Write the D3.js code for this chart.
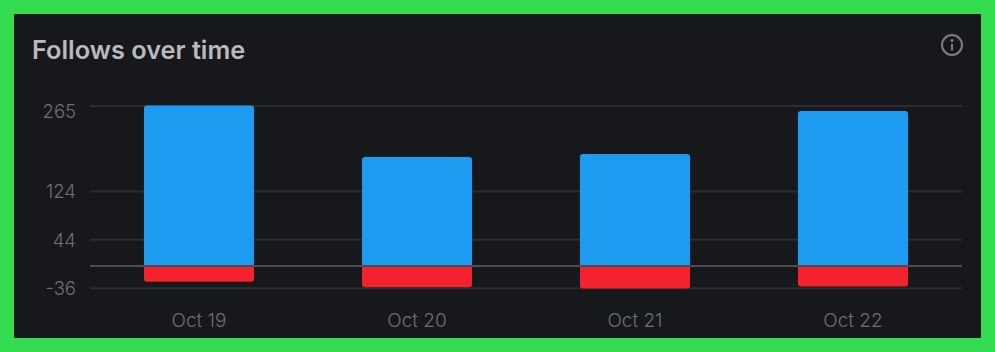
<!DOCTYPE html>
<html>
<head>
<meta charset="utf-8">
<script src="https://cdn.jsdelivr.net/npm/d3@7"></script>
<style>
    html, body { margin: 0; padding: 0; background: #33dc4f; }
    svg { display: block; }
    text { font-family: Inter, "Noto Sans", sans-serif; }
    .domain { display: none; }
</style>
</head>
<body>
<svg id="chart"></svg>
<script>
var days = ['Oct 19', 'Oct 20', 'Oct 21', 'Oct 22'];
var gained = [265, 180, 185, 256];
var lost = [-26, -35, -37, -34];
var yTicks = [265, 124, 44, -36];

var dim = {
    width: 995,
    height: 352,
    frame: { left: 14, top: 14, right: 981, bottom: 338 },
    plot: { left: 90, right: 962, top: 105.5, bottom: 287.8 }
};

var svg = d3.select('#chart')
    .attr('width', dim.width)
    .attr('height', dim.height);

svg.append('rect')
    .attr('x', dim.frame.left)
    .attr('y', dim.frame.top)
    .attr('width', dim.frame.right - dim.frame.left)
    .attr('height', dim.frame.bottom - dim.frame.top)
    .attr('fill', '#16181c');

svg.append('text')
    .attr('x', 32)
    .attr('y', 59)
    .attr('fill', '#b9bbbe')
    .attr('font-size', 25.3)
    .attr('font-weight', 600)
    .text('Follows over time');

// info icon
var info = svg.append('g').attr('transform', 'translate(952,45)');
info.append('circle')
    .attr('r', 10)
    .attr('fill', 'none')
    .attr('stroke', '#7c7e82')
    .attr('stroke-width', 2);
info.append('circle')
    .attr('cy', -4.5)
    .attr('r', 1.5)
    .attr('fill', '#7c7e82');
info.append('rect')
    .attr('x', -1)
    .attr('y', -1)
    .attr('width', 2)
    .attr('height', 6.5)
    .attr('fill', '#7c7e82');

var xScale = d3.scaleBand()
    .domain(days)
    .range([dim.plot.left, dim.plot.right])
    .paddingInner(0.495)
    .paddingOuter(0.2475);

var yScale = d3.scaleLinear()
    .domain([-36, 265])
    .range([dim.plot.bottom, dim.plot.top]);

var yAxis = d3.axisLeft(yScale)
    .tickValues(yTicks)
    .tickFormat(String)
    .tickSize(dim.plot.left - dim.plot.right)
    .tickPadding(14);

var gridG = svg.append('g')
    .attr('transform', 'translate(' + dim.plot.left + ',0)')
    .call(yAxis);
gridG.selectAll('.tick line')
    .attr('stroke', '#2b2d31')
    .attr('stroke-width', 2);
gridG.selectAll('.tick text')
    .attr('fill', '#6e7074')
    .attr('font-size', 18.5)
    .attr('font-weight', 300)
    .attr('font-family', 'Inter')
    // top label is pushed down so it stays under the line
    .attr('dy', function(d) { return d === 265 ? '0.66em' : '0.38em'; });

// bar with only the outer two corners rounded
function barPath(d, i, up) {
    var x0 = xScale(days[i]);
    var x1 = x0 + xScale.bandwidth();
    var y0 = yScale(0);
    var y1 = yScale(d);
    var r = up ? 3 : -3;
    var sweep = up ? 1 : 0;
    return 'M' + x0 + ',' + y0
        + 'V' + (y1 + r)
        + 'A3,3 0 0 ' + sweep + ' ' + (x0 + 3) + ',' + y1
        + 'H' + (x1 - 3)
        + 'A3,3 0 0 ' + sweep + ' ' + x1 + ',' + (y1 + r)
        + 'V' + y0 + 'Z';
}

svg.append('g').selectAll('path')
    .data(gained)
    .join('path')
    .attr('d', function(d, i) { return barPath(d, i, true); })
    .attr('fill', '#1d9bf0');

svg.append('g').selectAll('path')
    .data(lost)
    .join('path')
    .attr('d', function(d, i) { return barPath(d, i, false); })
    .attr('fill', '#f4212e');

// zero line sits over the bars
svg.append('line')
    .attr('x1', dim.plot.left)
    .attr('x2', dim.plot.right)
    .attr('y1', yScale(0))
    .attr('y2', yScale(0))
    .attr('stroke', '#4b4d51')
    .attr('stroke-width', 2);

var xAxis = d3.axisBottom(xScale)
    .tickSize(0)
    .tickPadding(0);

var xG = svg.append('g')
    .attr('transform', 'translate(0,313)')
    .call(xAxis);
xG.selectAll('.tick text')
    .attr('fill', '#6e7074')
    .attr('font-size', 19)
    .attr('font-weight', 300)
    .attr('font-family', 'Inter');
</script>
</body>
</html>
